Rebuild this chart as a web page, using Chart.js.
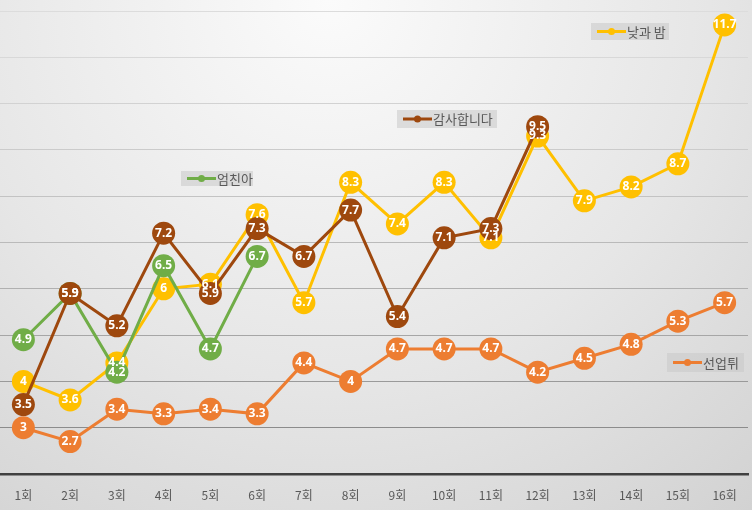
<!DOCTYPE html>
<html><head><meta charset="utf-8">
<script src="https://cdn.jsdelivr.net/npm/chart.js@4/dist/chart.umd.min.js"></script>
<style>
html,body{margin:0;padding:0;background:#fff;}
#wrap{position:relative;width:752px;height:510px;}
</style>
</head><body>
<div id="wrap"><canvas id="c" width="752" height="510"></canvas></div>
<script>
const categories = ["1회","2회","3회","4회","5회","6회","7회","8회","9회","10회","11회","12회","13회","14회","15회","16회"];
const dayNight = [4, 3.6, 4.4, 6, 6.1, 7.6, 5.7, 8.3, 7.4, 8.3, 7.1, 9.3, 7.9, 8.2, 8.7, 11.7];
const thankYou = [3.5, 5.9, 5.2, 7.2, 5.9, 7.3, 6.7, 7.7, 5.4, 7.1, 7.3, 9.5, null, null, null, null];
const momFriend = [4.9, 5.9, 4.2, 6.5, 4.7, 6.7, null, null, null, null, null, null, null, null, null, null];
const lovelyRunner = [3, 2.7, 3.4, 3.3, 3.4, 3.3, 4.4, 4, 4.7, 4.7, 4.7, 4.2, 4.5, 4.8, 5.3, 5.7];
const seriesNames = ["낮과 밤", "감사합니다", "엄친아", "선업튀"];

const colors = {"낮과 밤":"#FFC000","감사합니다":"#9E480E","엄친아":"#70AD47","선업튀":"#ED7D31"};
const legendBoxes = [
  {name:"낮과 밤", x:591, y:23, w:78, h:17},
  {name:"감사합니다", x:397, y:110, w:100, h:18},
  {name:"엄친아", x:181, y:171, w:72, h:15},
  {name:"선업튀", x:667, y:353, w:77, h:19}
];

function ds(label, data){
  const c = colors[label];
  return {label, data, borderColor:c, backgroundColor:c, pointBackgroundColor:c, pointBorderColor:c,
    borderWidth:3, pointRadius:11.5, pointHoverRadius:11.5, pointBorderWidth:0, tension:0, spanGaps:false, clip:false};
}

const bgPlugin = {
  id:'bg',
  beforeDraw(chart){
    const {ctx, width, height} = chart;
    ctx.save();
    const g = ctx.createRadialGradient(330, 0, 0, 330, 0, 760);
    g.addColorStop(0, '#fbfbfb');
    g.addColorStop(0.5, '#e6e6e6');
    g.addColorStop(1, '#cbcbcb');
    ctx.fillStyle = g;
    ctx.fillRect(0,0,width,height);
    ctx.restore();
  }
};

const labelPlugin = {
  id:'ptlabels',
  afterDatasetsDraw(chart){
    const ctx = chart.ctx;
    ctx.save();
    ctx.font = 'bold 12px "Noto Sans", "DejaVu Sans", sans-serif';
    ctx.fillStyle = '#ffffff';
    ctx.textAlign = 'center';
    ctx.textBaseline = 'middle';
    for (let i = chart.data.datasets.length - 1; i >= 0; i--) {
      const meta = chart.getDatasetMeta(i);
      meta.data.forEach((pt, j) => {
        const v = chart.data.datasets[i].data[j];
        if (v === null || v === undefined) return;
        ctx.fillText(String(v), pt.x, pt.y);
      });
    }
    ctx.restore();
  }
};

const legendPlugin = {
  id:'floatLegend',
  afterDraw(chart){
    const ctx = chart.ctx;
    ctx.save();
    legendBoxes.forEach(b => {
      ctx.fillStyle = 'rgba(200,200,200,0.55)';
      ctx.fillRect(b.x, b.y, b.w, b.h);
      const cy = b.y + b.h/2;
      const c = colors[b.name];
      ctx.strokeStyle = c; ctx.lineWidth = 3;
      ctx.beginPath(); ctx.moveTo(b.x+6, cy); ctx.lineTo(b.x+35, cy); ctx.stroke();
      ctx.fillStyle = c;
      ctx.beginPath(); ctx.arc(b.x+20.5, cy, 3.5, 0, Math.PI*2); ctx.fill();
      ctx.fillStyle = '#595959';
      ctx.font = '13px "Noto Sans CJK KR", sans-serif';
      ctx.textAlign = 'left'; ctx.textBaseline = 'middle';
      ctx.fillText(b.name, b.x+36, cy+0.5);
    });
    ctx.restore();
  }
};

const gridColors = ['#404040','#8c8c8c','#9a9a9a','#a6a6a6','#b0b0b0','#bababa','#c3c3c3','#cbcbcb','#d2d2d2','#d8d8d8','#dcdcdc'];

new Chart(document.getElementById('c'), {
  type:'line',
  data:{
    labels:categories,
    datasets:[
      ds("선업튀", lovelyRunner),
      ds("감사합니다", thankYou),
      ds("엄친아", momFriend),
      ds("낮과 밤", dayNight)
    ]
  },
  options:{
    responsive:false,
    animation:false,
    events:[],
    layout:{autoPadding:false, padding:{top:11,left:0,right:4,bottom:0}},
    plugins:{legend:{display:false}, tooltip:{enabled:false}},
    scales:{
      x:{
        offset:true,
        grid:{display:false},
        border:{display:true, color:'#404040', width:2.5},
        ticks:{color:'#595959', font:{family:'"Noto Sans CJK KR", sans-serif', size:12}, padding:6, maxRotation:0, autoSkip:false},
        afterFit(scale){ scale.height = 36; scale.paddingLeft = 0; scale.paddingRight = 0; }
      },
      y:{
        min:2, max:12,
        ticks:{display:false, stepSize:1},
        border:{display:false},
        grid:{color:(ctx)=>gridColors[ctx.index] || '#dcdcdc', lineWidth:1, drawTicks:false},
        afterFit(scale){ scale.width = 0; }
      }
    }
  },
  plugins:[bgPlugin, labelPlugin, legendPlugin]
});
</script>
</body></html>
